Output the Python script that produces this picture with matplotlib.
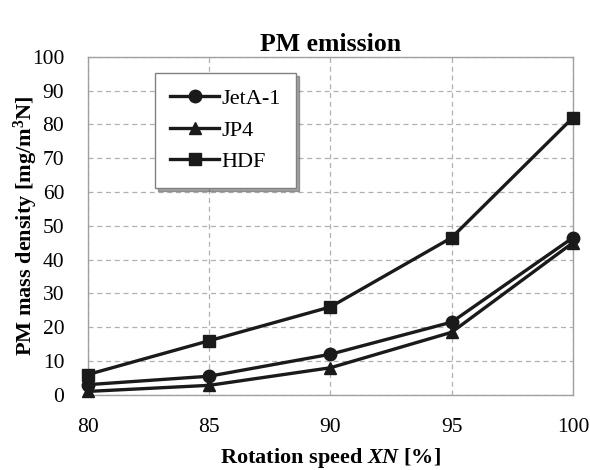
import matplotlib
matplotlib.use("Agg")
import matplotlib.pyplot as plt

speed = [80, 85, 90, 95, 100]
jeta1 = [3.0, 5.5, 12.0, 21.5, 46.5]
jp4 = [1.0, 2.8, 8.0, 18.5, 45.0]
hdf = [6.0, 16.0, 26.0, 46.5, 82.0]
xticks = [80, 85, 90, 95, 100]
yticks = list(range(0, 101, 10))

plt.rcParams['font.family'] = ['Liberation Serif', 'DejaVu Serif']
plt.rcParams['mathtext.fontset'] = 'custom'
plt.rcParams['mathtext.rm'] = 'Liberation Serif:bold'
plt.rcParams['mathtext.it'] = 'Liberation Serif:italic:bold'
plt.rcParams['mathtext.bf'] = 'Liberation Serif:bold'

fig = plt.figure(figsize=(5.9, 4.7), dpi=100)
ax = fig.add_axes([0.149, 0.16, 0.822, 0.719])

lw = 2.4
ax.plot(speed, jeta1, color='#1a1a1a', lw=lw, marker='o', ms=9, label='JetA-1', clip_on=False, zorder=3)
ax.plot(speed, jp4, color='#1a1a1a', lw=lw, marker='^', ms=9, label='JP4', clip_on=False, zorder=3)
ax.plot(speed, hdf, color='#1a1a1a', lw=lw, marker='s', ms=9, label='HDF', clip_on=False, zorder=3)

ax.set_xlim(80, 100)
ax.set_ylim(0, 100)
ax.set_xticks(xticks)
ax.set_yticks(yticks)
ax.tick_params(axis='y', length=0, labelsize=15.5, pad=17)
ax.tick_params(axis='x', length=0, labelsize=15.5, pad=17)
ax.grid(True, color='#b0b0b0', ls=(0, (4, 3)), lw=0.9)
for s in ax.spines.values():
    s.set_color('#a0a0a0')
    s.set_linewidth(1.0)

ax.set_title('PM emission', fontsize=18.5, fontweight='bold', pad=4)
ax.set_xlabel('Rotation speed $XN$ [%]', fontsize=16, fontweight='bold', labelpad=6)
ax.set_ylabel('PM mass density [mg/m$^{3}$N]', fontsize=16, fontweight='bold', labelpad=-6)

leg = ax.legend(loc='upper left', bbox_to_anchor=(0.138, 0.953), borderaxespad=0, fontsize=16,
                frameon=True, fancybox=False, shadow=True, handlelength=2.2, borderpad=0.7,
                labelspacing=0.5, handletextpad=0.1)
leg.get_frame().set_edgecolor('#808080')
leg.get_frame().set_linewidth(1.0)

fig.savefig('out.png', dpi=100)
